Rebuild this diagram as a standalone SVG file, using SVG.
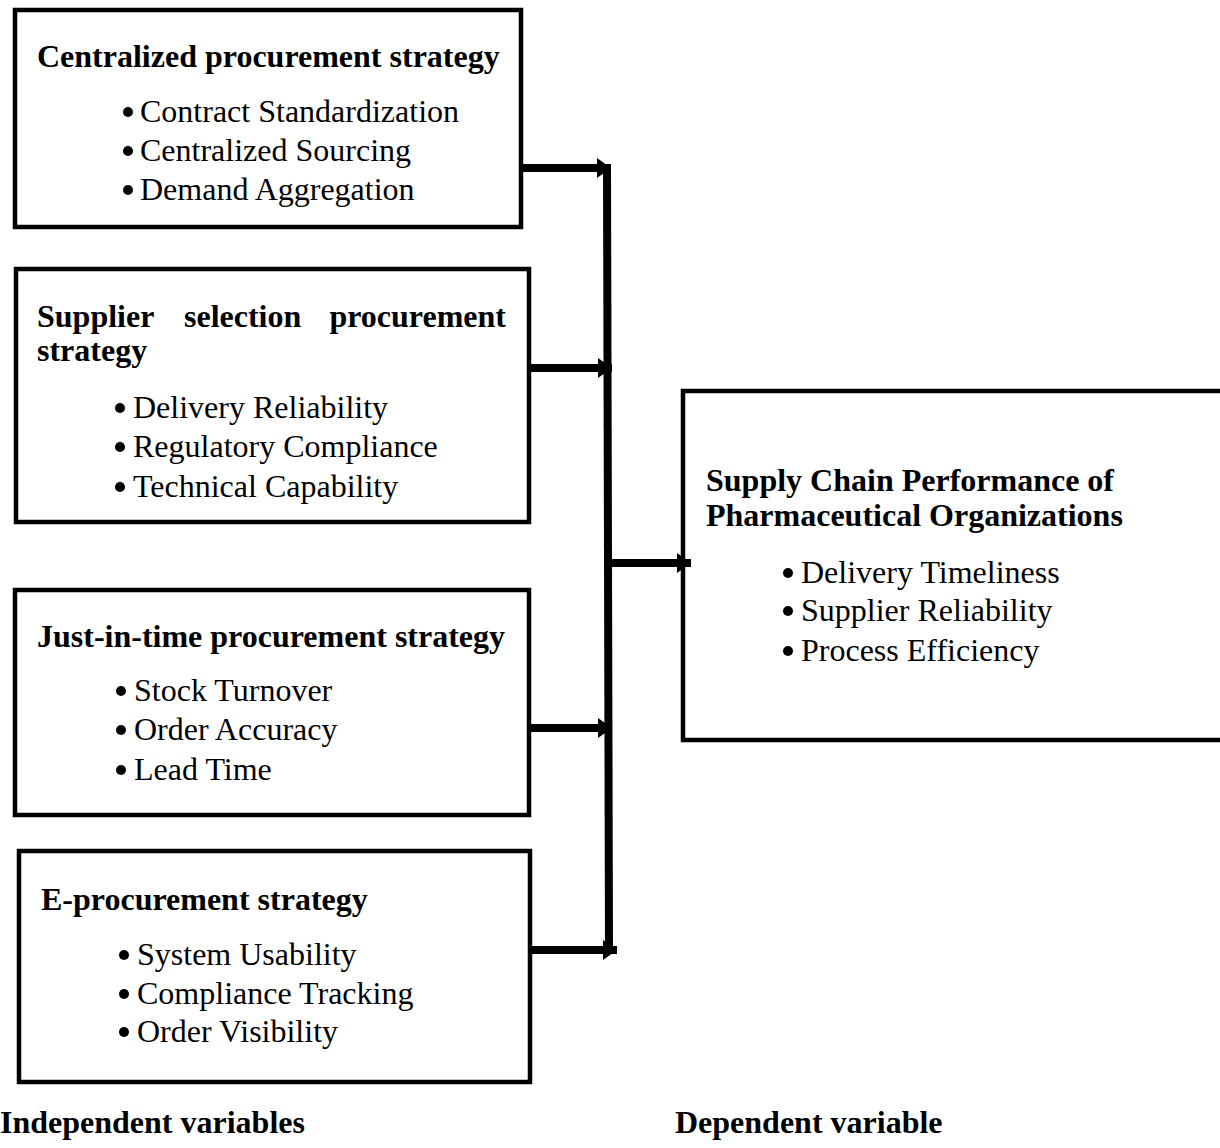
<svg xmlns="http://www.w3.org/2000/svg" width="1220" height="1148" viewBox="0 0 1220 1148">
<style>
.box{fill:none;stroke:#000;stroke-width:4.5}
text{font-family:"Liberation Serif","Times New Roman",serif;font-size:32px;fill:#000}
.t{font-weight:bold}
.ln{fill:none;stroke:#000;stroke-width:8}
</style>
<defs>
<marker id="ah" markerUnits="userSpaceOnUse" markerWidth="16" markerHeight="22" refX="14" refY="11" orient="auto">
<path d="M0,1 L14,11 L0,21 Z" fill="#000"/>
</marker>
</defs>
<rect width="1220" height="1148" fill="#fff"/>
<g id="connectors">
<line class="ln" x1="607" y1="165" x2="609" y2="952"/>
<line class="ln" x1="521" y1="168" x2="611" y2="168" marker-end="url(#ah)"/>
<line class="ln" x1="529" y1="368" x2="612" y2="368" marker-end="url(#ah)"/>
<line class="ln" x1="529" y1="728" x2="612" y2="728" marker-end="url(#ah)"/>
<line class="ln" x1="529" y1="950" x2="617" y2="950" marker-end="url(#ah)"/>
<line class="ln" x1="609" y1="563" x2="691" y2="563" marker-end="url(#ah)"/>
</g>
<g id="centralized">
<rect class="box" x="15" y="10" width="506" height="217"/>
<text class="t" x="37" y="67">Centralized procurement strategy</text>
<circle cx="128" cy="112" r="5"/><text x="140" y="122">Contract Standardization</text>
<circle cx="128" cy="151" r="5"/><text x="140" y="161">Centralized Sourcing</text>
<circle cx="128" cy="190" r="5"/><text x="140" y="200">Demand Aggregation</text>
</g>
<g id="supplier">
<rect class="box" x="16" y="269" width="513" height="253"/>
<text class="t" y="327"><tspan x="37">Supplier</tspan><tspan x="184">selection</tspan><tspan x="506" text-anchor="end">procurement</tspan></text>
<text class="t" x="37" y="361">strategy</text>
<circle cx="120" cy="408" r="5"/><text x="133" y="418">Delivery Reliability</text>
<circle cx="120" cy="447" r="5"/><text x="133" y="457">Regulatory Compliance</text>
<circle cx="120" cy="487" r="5"/><text x="133" y="497">Technical Capability</text>
</g>
<g id="jit">
<rect class="box" x="15" y="590" width="514" height="225"/>
<text class="t" x="37" y="647">Just-in-time procurement strategy</text>
<circle cx="121" cy="691" r="5"/><text x="134" y="701">Stock Turnover</text>
<circle cx="121" cy="730" r="5"/><text x="134" y="740">Order Accuracy</text>
<circle cx="121" cy="770" r="5"/><text x="134" y="780">Lead Time</text>
</g>
<g id="eproc">
<rect class="box" x="19" y="851" width="511" height="231"/>
<text class="t" x="41" y="910">E-procurement strategy</text>
<circle cx="124" cy="955" r="5"/><text x="137" y="965">System Usability</text>
<circle cx="124" cy="994" r="5"/><text x="137" y="1004">Compliance Tracking</text>
<circle cx="124" cy="1032" r="5"/><text x="137" y="1042">Order Visibility</text>
</g>
<g id="performance">
<rect class="box" x="683" y="391" width="545" height="349"/>
<text class="t" x="706" y="491">Supply Chain Performance of</text>
<text class="t" x="706" y="526">Pharmaceutical Organizations</text>
<circle cx="788" cy="573" r="5"/><text x="801" y="583">Delivery Timeliness</text>
<circle cx="788" cy="611" r="5"/><text x="801" y="621">Supplier Reliability</text>
<circle cx="788" cy="651" r="5"/><text x="801" y="661">Process Efficiency</text>
</g>
<g id="labels">
<text class="t" x="0" y="1133">Independent variables</text>
<text class="t" x="675" y="1133">Dependent variable</text>
</g>
</svg>
